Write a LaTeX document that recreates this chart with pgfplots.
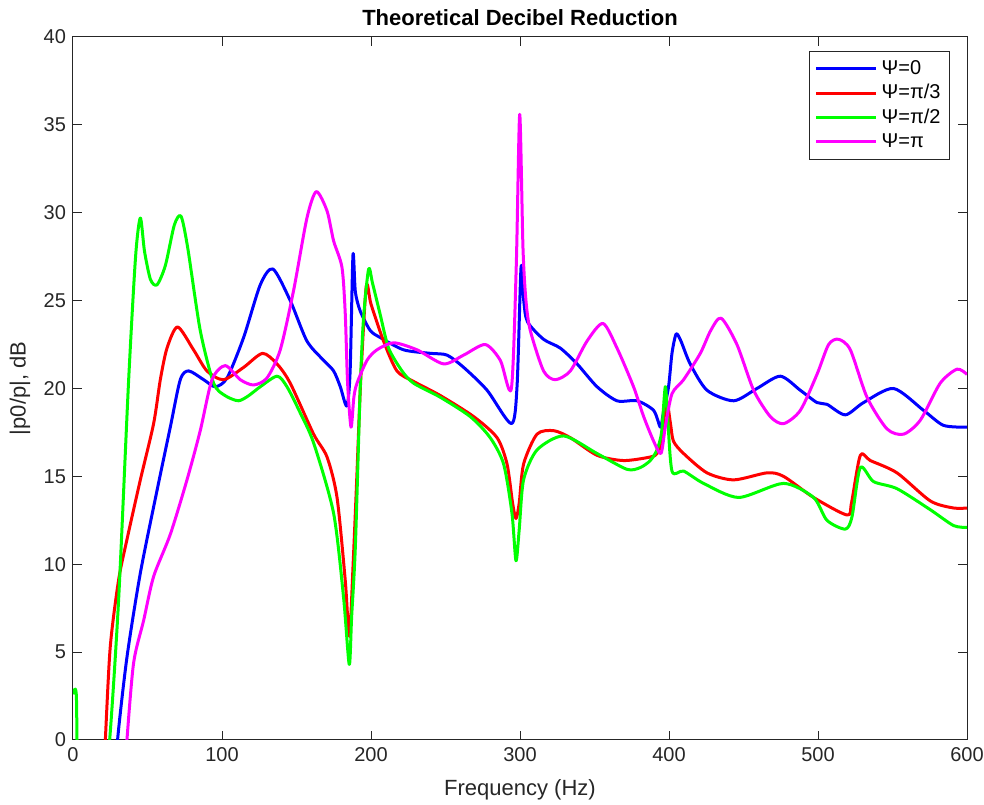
\documentclass[border=0pt]{standalone}
\usepackage{fontspec}
\setmainfont{Liberation Sans}
\usepackage{pgfplots}
\pgfplotsset{compat=1.18}
\usetikzlibrary{calc}

\definecolor{axgray}{rgb}{0.15,0.15,0.15}
\definecolor{cblue}{rgb}{0,0,1}
\definecolor{cred}{rgb}{1,0,0}
\definecolor{cgreen}{rgb}{0,1,0}
\definecolor{cmag}{rgb}{1,0,1}

\begin{document}
\begin{tikzpicture}
\begin{axis}[
  scale only axis,
  width=447pt, height=351.5pt,
  xmin=0, xmax=600, ymin=0, ymax=40,
  xtick={0,100,...,600}, ytick={0,5,...,40},
  tick align=inside, major tick length=4.5pt,
  axis line style={draw=axgray, line width=0.5pt},
  every tick/.style={draw=axgray, line width=0.5pt},
  ticklabel style={font=\fontsize{10}{12}\selectfont, text=axgray},
  /pgf/number format/assume math mode=true,
  xlabel={Frequency (Hz)},
  ylabel={|p0/p|, dB},
  label style={font=\fontsize{11}{13}\selectfont, text=axgray},
  xlabel style={at={(axis description cs:0.5,-0.071)}, anchor=center},
  ylabel style={at={(axis description cs:-0.0593,0.5)}, anchor=center},
  title={\bfseries Theoretical Decibel Reduction},
  title style={at={(axis description cs:0.5,1.010)}, anchor=center, font=\fontsize{11}{13}\selectfont},
  legend cell align=left,
  legend style={at={(axis description cs:1,1)}, anchor=north east,
    xshift=-8.5pt, yshift=-7pt, draw=axgray, line width=0.5pt,
    font=\fontsize{10}{12}\selectfont, row sep=-0.5pt, inner sep=2.5pt},
  legend image code/.code={\draw[#1] (0pt,0pt) -- (30pt,0pt);},
  every axis plot/.append style={line width=1.5pt, line join=round, smooth, tension=0.45},
]
% Psi = 0
\addplot[cblue] coordinates {
(28,-3)(29.9,0)(36.2,4.7)(45.2,9.5)(56.4,14.2)(65.3,17.8)(72,20.5)(77.6,21.0)
(87.7,20.5)(95.5,20.1)(103.4,20.6)(114.5,22.9)(125.7,25.9)(134.2,26.8)(145.8,25.0)
(157,22.7)(168.2,21.6)(174.9,21.0)(179.4,20.1)(183.8,19.0)(186,21)(187.9,27.6)
(189.5,25.5)(192.8,24.4)(199.5,23.3)(206.2,22.9)(221.9,22.2)(239.8,22.0)(251,21.9)
(262.2,21.2)(277.9,19.9)(294.2,18.0)(298,20.1)(300.7,26.9)(302.5,25)(305,23.8)
(315.8,22.8)(327,22.3)(338.3,21.4)(351.7,20.1)(365.1,19.3)(378.5,19.3)(389.7,18.75)
(394.2,17.8)(396,18.5)(399.7,20.1)(402,22)(404.8,23.1)(408,22.7)(414.2,21.4)
(425.5,19.9)(443.4,19.3)(459,20.0)(474.7,20.7)(488.1,19.9)(499.3,19.2)(506,19.1)
(518.3,18.5)(530.6,19.2)(550.7,20.0)(570.9,18.75)(584.3,17.9)(600,17.8)
};
\addlegendentry{Ψ=0}
% Psi = pi/3
\addplot[cred] coordinates {
(20,-3)(21.7,0)(25,5.3)(30.6,9.1)(36.2,11.4)(45.2,14.8)(54.1,18)(58.6,20.5)
(63.1,22.3)(70.2,23.5)(80.9,22.2)(89.9,21.0)(101,20.5)(114.5,21.2)(127.2,22.0)
(136.9,21.4)(145.8,20.3)(161.5,17.4)(170.5,16.1)(177.2,13.8)(182.7,9.1)(185.5,5.9)
(188,10)(190.5,15)(193,20.3)(196.8,25.8)(200,24.8)(208.4,22.7)(217.4,21.0)
(228.6,20.4)(246.5,19.6)(268.9,18.4)(284.6,17.2)(291.3,15.7)(295,13.5)(297.3,12.6)
(299.5,13.5)(302.4,15.7)(311.4,17.4)(322.6,17.6)(333.8,17.2)(351.7,16.2)(369.5,15.9)
(387.4,16.1)(392,16.3)(395,17)(398.2,19.3)(401,18)(403,17.0)(409.8,16.3)(425.5,15.2)
(443.4,14.8)(465.8,15.2)(476.9,15.0)(497,13.8)(519.5,12.8)(522.5,13.5)(528.4,16.2)
(535.1,15.9)(553,15.2)(575.4,13.6)(591,13.2)(600,13.2)
};
\addlegendentry{Ψ=π/3}
% Psi = pi/2
\addplot[cgreen] coordinates {
(0,2.6)(2.2,2.6)(4.5,-3)(20,-3)(24.6,0)(30.6,7.95)(37.3,20.4)(42,27.5)
(45.2,29.7)(48,27.8)(52,26.2)(56.4,25.9)(62,27)(68,29.3)(72.5,29.8)(77,28)(85.4,23.3)
(94.4,20.3)(102,19.6)(111,19.3)(118,19.6)(125.7,20.1)(137,20.7)(143.6,20.1)
(152,18.7)(161.5,16.9)(174.9,12.9)(181.6,8.1)(185.4,4.3)(187,7)(189.5,11)
(192.8,20.1)(195,24)(198.4,26.8)(201,26)(206.2,24.2)(211.8,22.3)(220.8,21.0)
(228.6,20.3)(246.5,19.5)(266.6,18.4)(280,17.2)(289,15.7)(294.6,12.9)(297.3,10.2)
(299.5,12)(302.4,14.8)(311.4,16.5)(329.3,17.3)(351.7,16.3)(371.8,15.4)(380.7,15.5)
(387.4,15.9)(391.9,16.5)(395,17.5)(397.5,20.1)(399,18.5)(402,15.3)(409.8,15.3)
(423.2,14.6)(446.7,13.8)(476.9,14.6)(497,13.8)(506,12.5)(518.3,12.0)(522.8,12.7)
(528.4,15.5)(537.3,14.7)(553,14.3)(575.4,13.1)(591,12.2)(600,12.1)
};
\addlegendentry{Ψ=π/2}
% Psi = pi
\addplot[cmag] coordinates {
(34,-3)(36.2,0)(40.7,4.4)(47.4,6.8)(54.1,9.3)(65.3,11.7)(76.5,14.8)(85.4,17.6)
(93.3,20.5)(102.2,21.3)(112.3,20.5)(121.2,20.2)(130.2,20.6)(139.1,22.2)(148.1,25.6)
(157,29.7)(163.3,31.2)(170.5,30.1)(174.9,28.4)(180.5,26.9)(182.7,24.3)(184.3,20.3)
(186.6,17.8)(188.5,19.5)(190.6,20.3)(197.3,21.6)(204,22.2)(215.2,22.6)(230.9,22.2)
(248.7,21.4)(262.2,21.9)(276.7,22.5)(286.8,21.6)(294.2,20.0)(297.5,27)(299.8,35.6)
(302,28)(304,25)(306.9,23.3)(315.8,21.0)(323.7,20.5)(333.8,21.0)
(345,22.7)(355.7,23.7)(365.1,22.3)(376.2,20.1)(383,18.4)(389.7,17.0)(394.6,16.3)
(397.5,17.8)(402,19.7)(409.8,20.5)(421,22.0)(428,23.3)(435,24.0)(445.6,22.5)
(456.8,19.9)(468,18.4)(476.9,18.0)(488.1,18.75)(499.3,20.8)(507.1,22.5)(513.8,22.8)
(521.7,22.2)(532.9,19.5)(546.3,17.7)(557.4,17.4)(568.7,18.2)(582,20.3)(593.3,21.1)
(600,20.8)
};
\addlegendentry{Ψ=π}
\end{axis}
\pgfresetboundingbox
\path ($(current axis.south west)+(-36.5pt,-32.5pt)$) rectangle ($(current axis.north east)+(8.5pt,18.5pt)$);
\end{tikzpicture}
\end{document}
